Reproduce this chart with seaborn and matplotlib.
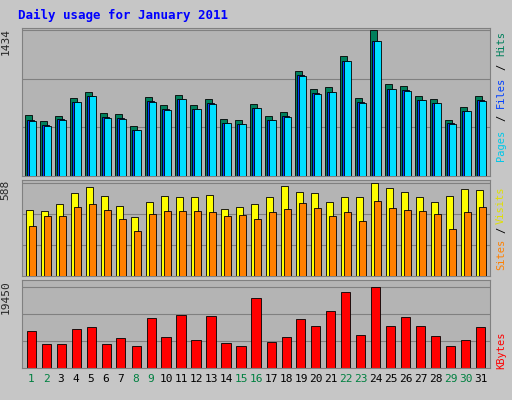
import numpy as np
import matplotlib
matplotlib.use("Agg")
import matplotlib.pyplot as plt
import seaborn as sns
import pandas as pd

days = list(range(1, 32))
weekend = [1, 2, 8, 9, 15, 16, 22, 23, 29, 30]
hits = [598, 538, 588, 767, 827, 617, 607, 488, 777, 697, 797, 697, 757, 558, 548, 707,
        588, 627, 1036, 856, 876, 1185, 767, 1434, 906, 886, 787, 757, 548, 677, 787]
files = [550, 500, 560, 730, 790, 580, 570, 455, 735, 655, 760, 660, 715, 525, 515, 670,
         555, 590, 990, 815, 830, 1135, 725, 1330, 860, 845, 750, 720, 520, 640, 745]
pages = [545, 495, 555, 725, 785, 575, 565, 450, 730, 650, 755, 655, 710, 520, 510, 665,
         550, 585, 985, 810, 825, 1130, 720, 1325, 855, 840, 745, 715, 515, 635, 740]
visits = [416, 410, 456, 522, 562, 502, 443, 370, 469, 502, 496, 496, 509, 423, 436, 456,
          496, 568, 529, 522, 469, 496, 496, 588, 555, 529, 496, 469, 502, 548, 542]
sites = [317, 377, 377, 436, 456, 416, 357, 284, 390, 410, 410, 410, 403, 377, 383, 357,
         403, 423, 462, 429, 377, 403, 350, 476, 429, 416, 410, 390, 297, 403, 436]
kbytes = [8904, 5624, 5624, 9373, 9842, 5624, 7264, 5155, 11951, 7499, 12654, 6796, 12420,
          5858, 5155, 16638, 6093, 7499, 11717, 10077, 13592, 18044, 7967, 19450, 10077,
          12186, 10077, 7733, 5155, 6796, 9842]

sns.set_style("white")
plt.rcParams['font.family'] = ['DejaVu Sans Mono', 'DejaVu Sans']

W, H = 512, 400
fig = plt.figure(figsize=(W / 100, H / 100), dpi=100, facecolor="#C6C6C6")
x = np.arange(len(days))

def panel(y1, y2):
    ax = fig.add_axes([22 / W, (H - y2) / H, 468 / W, (y2 - y1) / H])
    ax.set_facecolor("#B4B4B4")
    ax.set_xlim(-0.6, len(days) - 0.4)
    ax.set_xticks([])
    ax.set_yticks([])
    for s in ax.spines.values():
        s.set_color("#808080")
    return ax

def grid(ax, top):
    for f in (1 / 3, 2 / 3, 1.0):
        ax.axhline(top * f, color="#808080", lw=0.8, zorder=0)

def side_label(parts):
    for txt, yy, col in parts:
        fig.text(501 / W, (H - yy) / H, txt, color=col, rotation=90,
                 ha="center", va="center", fontsize=7.5)

# top: hits / files / pages
ax1 = panel(28, 176)
ax1.set_ylim(0, 1434 * 1.015)
grid(ax1, 1434)
ax1.bar(x - 0.18, hits, width=0.45, color="#00805C", edgecolor="black", lw=0.6, zorder=2)
ax1.bar(x - 0.03, files, width=0.45, color="#0040FF", edgecolor="black", lw=0.6, zorder=3)
ax1.bar(x + 0.12, pages, width=0.45, color="#00E0FF", edgecolor="black", lw=0.6, zorder=4)
ax1.text(-0.025, 1.0, "1434", transform=ax1.transAxes, rotation=90, ha="right", va="top", fontsize=8)
side_label([("Hits", 43, "#00805C"), ("/", 67, "black"), ("Files", 92, "#0040FF"),
            ("/", 118, "black"), ("Pages", 145, "#00C8E8")])

# middle: visits / sites
ax2 = panel(180, 276)
ax2.set_ylim(0, 588 * 1.03)
grid(ax2, 588)
ax2.bar(x - 0.1, visits, width=0.5, color="#FFFF00", edgecolor="black", lw=0.6, zorder=2)
ax2.bar(x + 0.1, sites, width=0.5, color="#FF8000", edgecolor="black", lw=0.6, zorder=3)
ax2.text(-0.025, 1.0, "588", transform=ax2.transAxes, rotation=90, ha="right", va="top", fontsize=8)
side_label([("Visits", 205, "#E0E000"), ("/", 230, "black"), ("Sites", 254, "#FF8000")])

# bottom: kbytes
ax3 = panel(280, 368)
df = pd.DataFrame({"day": [str(d) for d in days], "kb": kbytes})
sns.barplot(data=df, x="day", y="kb", color="#FF0000", width=0.6, saturation=1,
            edgecolor="black", linewidth=0.6, ax=ax3, zorder=2)
ax3.set_facecolor("#B4B4B4")
ax3.set_xlim(-0.6, len(days) - 0.4)
ax3.set_ylim(0, 19450 * 1.08)
grid(ax3, 19450)
ax3.set_xlabel("")
ax3.set_ylabel("")
ax3.set_yticks([])
ax3.set_xticks(x)
ax3.set_xticklabels([str(d) for d in days], fontsize=8)
ax3.tick_params(axis="x", length=0, pad=4)
for lab, d in zip(ax3.get_xticklabels(), days):
    lab.set_color("#008040" if d in weekend else "black")
ax3.text(-0.025, 1.0, "19450", transform=ax3.transAxes, rotation=90, ha="right", va="top", fontsize=8)
side_label([("KBytes", 350, "#FF0000")])

fig.text(18 / W, (H - 15) / H, "Daily usage for January 2011", color="#0000FF",
         fontsize=9, fontweight="bold", ha="left", va="center")

fig.savefig("out.png", dpi=100, facecolor=fig.get_facecolor())
